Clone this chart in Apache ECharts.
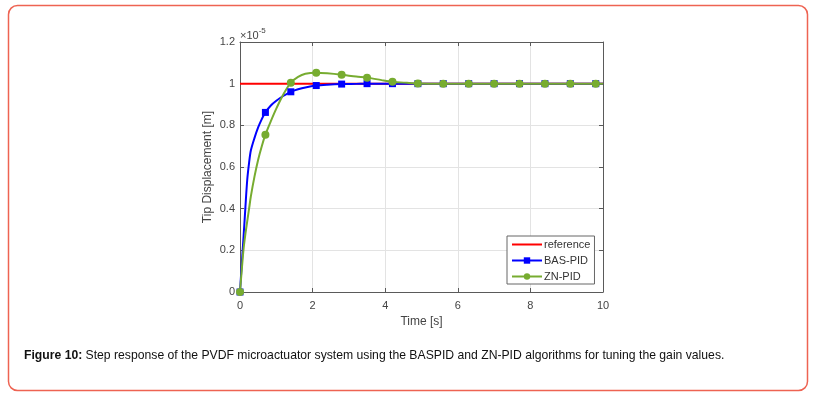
<!DOCTYPE html>
<html><head><meta charset="utf-8">
<script src="https://cdn.jsdelivr.net/npm/echarts@6/dist/echarts.min.js"></script>
<style>html,body{margin:0;padding:0;background:#fff}#c{width:815px;height:394px}</style>
</head><body><div id="c"></div>
<script>
// time samples [s]
const times = [0, 0.05, 0.1, 0.15, 0.2, 0.25, 0.3, 0.4, 0.5, 0.6, 0.7, 0.85, 1.0, 1.2, 1.4, 1.6, 1.8, 2.1, 2.4, 2.8, 3.2, 3.5, 3.9, 4.2, 4.6, 4.9, 5.6, 6.3, 7.0, 7.7, 8.4, 9.1, 9.8, 10];
// marker times
const markerTimes = [0, 0.7, 1.4, 2.1, 2.8, 3.5, 4.2, 4.9, 5.6, 6.3, 7.0, 7.7, 8.4, 9.1, 9.8];
// values (x 1e-5 m)
const referenceVals = times.map(() => 1);
const basPid = [0, 0.14, 0.27, 0.41, 0.54, 0.62, 0.68, 0.74, 0.79, 0.83, 0.862, 0.895, 0.918, 0.942, 0.961, 0.973, 0.982, 0.991, 0.995, 0.998, 0.999, 1.0, 1.0, 1.0, 1.0, 1.0, 1.0, 1.0, 1.0, 1.0, 1.0, 1.0, 1.0, 1.0];
const znPid = [0, 0.11, 0.21, 0.28, 0.34, 0.4, 0.46, 0.555, 0.635, 0.7, 0.755, 0.82, 0.88, 0.95, 1.005, 1.033, 1.048, 1.053, 1.05, 1.043, 1.034, 1.029, 1.017, 1.009, 1.004, 1.001, 1.0, 1.0, 1.0, 1.0, 1.0, 1.0, 1.0, 1.0];
const xTicks = [0, 2, 4, 6, 8, 10];
const yTicks = [0, 0.2, 0.4, 0.6, 0.8, 1, 1.2];

function build(vals) {
  return times.map((t, i) => {
    const isM = markerTimes.some(m => Math.abs(m - t) < 1e-9);
    return isM ? {value: [t, vals[i]]} : {value: [t, vals[i]], symbol: 'none'};
  });
}

const chart = echarts.init(document.getElementById('c'), null, {renderer: 'canvas'});
const axisCol = '#5a5a5a';
const labCol = '#444';
const font = 'Liberation Sans, Arial, sans-serif';
const xBase = {type: 'value', min: 0, max: 10, interval: 2};
const yBase = {type: 'value', min: 0, max: 1.2, interval: 0.2};
chart.setOption({
  animation: false,
  textStyle: {fontFamily: font},
  grid: {left: 240, right: 212, top: 42, bottom: 102, show: false},
  legend: {
    orient: 'vertical', left: 507, top: 236,
    data: [{name: 'reference', itemStyle: {opacity: 0}}, 'BAS-PID', 'ZN-PID'],
    itemWidth: 30, itemHeight: 8, itemGap: 5,
    padding: [3, 4, 2, 4],
    backgroundColor: '#fff', borderColor: '#666', borderWidth: 1,
    textStyle: {fontSize: 11, color: '#333', fontFamily: font, padding: [0, 0, 0, -3]}
  },
  xAxis: [
    Object.assign({}, xBase, {
      position: 'bottom',
      name: 'Time [s]', nameLocation: 'middle', nameGap: 23,
      nameTextStyle: {fontSize: 12, color: labCol, fontFamily: font},
      axisLine: {show: true, onZero: false, lineStyle: {color: axisCol, width: 1}},
      axisTick: {show: true, inside: true, length: 4, lineStyle: {color: axisCol}},
      axisLabel: {fontSize: 11, color: labCol, margin: 8, formatter: v => xTicks.includes(v) ? String(v) : ''},
      splitLine: {show: true, lineStyle: {color: '#e3e3e3', width: 1}}
    }),
    Object.assign({}, xBase, {
      position: 'top',
      axisLine: {show: true, onZero: false, lineStyle: {color: axisCol, width: 1}},
      axisTick: {show: true, inside: true, length: 4, lineStyle: {color: axisCol}},
      axisLabel: {show: false}, splitLine: {show: false}
    })
  ],
  yAxis: [
    Object.assign({}, yBase, {
      position: 'left',
      name: 'Tip Displacement [m]', nameLocation: 'middle', nameGap: 26,
      nameTextStyle: {fontSize: 12, color: labCol, fontFamily: font},
      axisLine: {show: true, onZero: false, lineStyle: {color: axisCol, width: 1}},
      axisTick: {show: true, inside: true, length: 4, lineStyle: {color: axisCol}},
      axisLabel: {fontSize: 11, color: labCol, margin: 5,
        formatter: v => { const r = Math.round(v * 10) / 10; return yTicks.some(t => Math.abs(t - r) < 1e-9) ? String(r) : ''; }},
      splitLine: {show: true, lineStyle: {color: '#e3e3e3', width: 1}}
    }),
    Object.assign({}, yBase, {
      position: 'right',
      axisLine: {show: true, onZero: false, lineStyle: {color: axisCol, width: 1}},
      axisTick: {show: true, inside: true, length: 4, lineStyle: {color: axisCol}},
      axisLabel: {show: false}, splitLine: {show: false}
    })
  ],
  series: [
    {name: 'reference', type: 'line', data: times.map((t, i) => [t, referenceVals[i]]),
      showSymbol: false, symbol: 'none', color: '#ff0000', lineStyle: {width: 2, color: '#ff0000'}},
    {name: 'BAS-PID', type: 'line', data: build(basPid), smooth: 0.3,
      symbol: 'rect', symbolSize: 7, showAllSymbol: true, color: '#0000ff',
      itemStyle: {color: '#0000ff'}, lineStyle: {width: 2, color: '#0000ff'}},
    {name: 'ZN-PID', type: 'line', data: build(znPid), smooth: 0.3,
      symbol: 'circle', symbolSize: 8, showAllSymbol: true, color: '#77ac30',
      itemStyle: {color: '#77ac30'}, lineStyle: {width: 2, color: '#77ac30'}}
  ],
  graphic: [
    {type: 'rect', left: 6, top: 3, shape: {width: 799, height: 385, r: 9}, z: -10,
      style: {fill: 'none', stroke: '#ee6352', lineWidth: 1.5}},
    {type: 'text', left: 240, top: 27, z: 10,
      style: {text: '{a|×10}{b|-5}', rich: {
        a: {fontSize: 11, fill: '#444', fontFamily: font, verticalAlign: 'bottom'},
        b: {fontSize: 8, fill: '#444', fontFamily: font, verticalAlign: 'top', padding: [0, 0, 6, 0]}}}},
    {type: 'text', left: 24, top: 350, z: 10,
      style: {text: '{b|Figure 10:} {n|Step response of the PVDF microactuator system using the BASPID and ZN-PID algorithms for tuning the gain values.}',
        rich: {b: {fontSize: 12.2, fontWeight: 'bold', fill: '#111', fontFamily: font},
               n: {fontSize: 12.2, fill: '#111', fontFamily: font}}}}
  ]
});
</script></body></html>
